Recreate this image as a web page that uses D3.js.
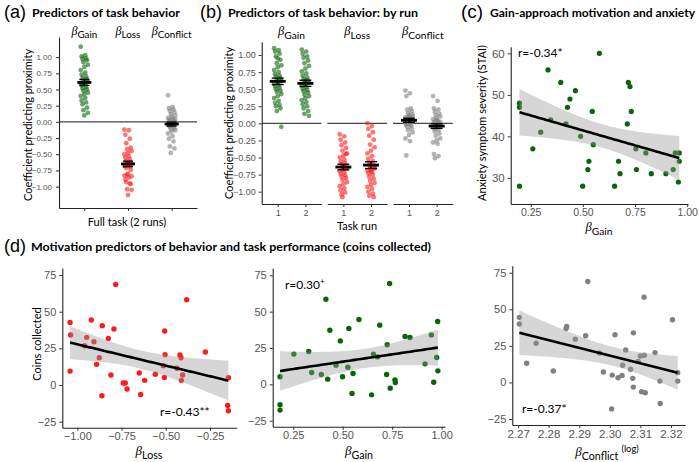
<!DOCTYPE html>
<html>
<head>
<meta charset="utf-8">
<script src="https://cdn.jsdelivr.net/npm/d3@7"></script>
<style>
  body { margin: 0; background: #fff; }
  text { font-family: Lato, "Open Sans", sans-serif; }
</style>
</head>
<body>
<script>
// ---- data ----
var predictors = ["Gain", "Loss", "Conflict"];
var runs = ["1", "2"];

// (a) full task coefficients
var gainAll = [1.16, 1.03, 1.01, 0.98, 0.97, 0.95, 0.92, 0.88, 0.85, 0.80, 0.76, 0.73, 0.70, 0.68, 0.66, 0.64, 0.62, 0.61,
    0.60, 0.58, 0.56, 0.54, 0.52, 0.50, 0.48, 0.45, 0.43, 0.40, 0.37, 0.33, 0.30, 0.27, 0.22, 0.18, 0.14, 0.10];
var lossAll = [-0.12, -0.13, -0.20, -0.26, -0.33, -0.40, -0.42, -0.45, -0.48, -0.50, -0.53, -0.55, -0.58, -0.60, -0.62, -0.64, -0.65, -0.66,
    -0.68, -0.66, -0.68, -0.69, -0.71, -0.74, -0.82, -0.84, -0.80, -0.83, -0.86, -0.89, -0.95, -0.93, -0.96, -1.04, -1.05, -1.13];
var conflictAll = [0.41, 0.23, 0.21, 0.19, 0.17, 0.15, 0.12, 0.10, 0.08, 0.06, 0.05, 0.03, 0.02, 0.01, 0.00, -0.01, -0.02, -0.03,
    -0.04, -0.05, -0.06, -0.07, -0.08, -0.10, -0.11, -0.13, -0.15, -0.18, -0.22, -0.26, -0.30, -0.38, -0.41, -0.48, 0.04, -0.02];

// (b) by run
var gainRun1 = [1.10, 1.07, 1.05, 1.02, 0.98, 0.93, 0.88, 0.85, 0.82, 0.78, 0.75, 0.72, 0.70, 0.68, 0.66, 0.64, 0.62, 0.60,
    0.58, 0.56, 0.54, 0.52, 0.50, 0.48, 0.46, 0.43, 0.40, 0.37, 0.33, 0.30, 0.27, 0.25, 0.22, 0.18, -0.05, 0.95];
var gainRun2 = [1.08, 1.05, 1.02, 0.98, 0.96, 0.92, 0.88, 0.84, 0.80, 0.76, 0.73, 0.70, 0.67, 0.65, 0.63, 0.61, 0.59, 0.57,
    0.55, 0.53, 0.51, 0.49, 0.47, 0.45, 0.42, 0.40, 0.37, 0.34, 0.31, 0.28, 0.25, 0.22, 0.18, 0.14, 0.11, 0.62];
var lossRun1 = [-0.16, -0.19, -0.24, -0.28, -0.32, -0.36, -0.40, -0.44, -0.47, -0.50, -0.53, -0.56, -0.58, -0.60, -0.62, -0.64, -0.66, -0.68,
    -0.70, -0.72, -0.74, -0.76, -0.78, -0.80, -0.83, -0.86, -0.89, -0.92, -0.95, -0.98, -1.01, -1.04, -0.45, -1.08, -0.65, -0.63];
var lossRun2 = [0.00, -0.04, -0.08, -0.13, -0.18, -0.24, -0.31, -0.35, -0.40, -0.44, -0.48, -0.52, -0.55, -0.58, -0.61, -0.63, -0.65, -0.67,
    -0.69, -0.71, -0.73, -0.75, -0.78, -0.81, -0.84, -0.87, -0.90, -0.93, -0.96, -1.00, -1.03, -1.06, -1.08, -0.62, -0.66, -0.70];
var conflictRun1 = [0.48, 0.44, 0.40, 0.22, 0.20, 0.18, 0.15, 0.13, 0.11, 0.09, 0.08, 0.07, 0.06, 0.05, 0.04, 0.03, 0.02, 0.01,
    0.00, -0.01, -0.02, -0.03, -0.05, -0.07, -0.10, -0.13, -0.17, -0.22, -0.26, -0.47, 0.05, 0.03, 0.06, 0.02, 0.10, 0.12];
var conflictRun2 = [0.40, 0.33, 0.22, 0.20, 0.17, 0.14, 0.12, 0.10, 0.08, 0.06, 0.04, 0.02, 0.01, 0.00, -0.01, -0.02, -0.03, -0.04,
    -0.05, -0.06, -0.08, -0.10, -0.12, -0.15, -0.18, -0.22, -0.25, -0.28, -0.30, -0.45, -0.48, -0.51, -0.04, -0.03, 0.02, 0.05];

// (c) gain vs anxiety
var cGain = [0.196, 0.196, 0.196, 0.26, 0.298, 0.333, 0.346, 0.394, 0.419, 0.426, 0.438, 0.464, 0.489, 0.499, 0.524, 0.529, 0.545, 0.55,
    0.579, 0.652, 0.671, 0.678, 0.713, 0.718, 0.726, 0.732, 0.754, 0.757, 0.802, 0.828, 0.898, 0.933, 0.943, 0.962, 0.962, 0.958];
var cAnxiety = [28, 48, 47, 37, 41, 56, 44, 53, 43, 47, 49, 51, 40, 28, 32, 34, 46, 38,
    60, 28, 34, 31, 43, 53, 52, 46, 37, 32, 36, 31, 31, 32, 36, 36, 34, 29];

// (d) coins collected
var d1Loss = [-1.041, -1.038, -1.041, -0.959, -0.947, -0.921, -0.906, -0.891, -0.876, -0.859, -0.861, -0.825, -0.81, -0.793, -0.783,
    -0.74, -0.729, -0.719, -0.65, -0.642, -0.619, -0.559, -0.506, -0.504, -0.514, -0.508, -0.437, -0.42, -0.414, -0.412, -0.405,
    -0.382, -0.276, -0.15, -0.146, -0.146];
var d1Coins = [42.7, 34.1, 9.5, 26.8, 32.5, 44.3, 29.5, 14.1, 18.6, 40.5, -7.3, 31.8, 6.8, 38.2, 68.6,
    1.4, 1.4, -2.7, 8.2, -6.4, 3.2, 7.3, 36.8, 20.7, 13.2, 5.2, 11.4, 20.5, 18.6, 3.2, 6.8,
    58.2, 22.5, -13.9, -17.5, 5.0];

var d2Gain = [0.183, 0.183, 0.183, 0.253, 0.328, 0.343, 0.392, 0.415, 0.424, 0.435, 0.466, 0.488, 0.499, 0.526, 0.531, 0.547, 0.552, 0.582,
    0.646, 0.655, 0.676, 0.687, 0.722, 0.725, 0.737, 0.74, 0.764, 0.766, 0.815, 0.84, 0.916, 0.948, 0.96, 0.975, 0.981, 0.98];
var d2Coins = [5.2, -14.0, -17.7, 20.8, 22.6, 8.2, 6.8, 58.5, 3.6, 37.2, 13.2, 29.9, 5.2, 11.8, 38.4, -6.2, 7.5, 44.6,
    -7.2, 20.8, 18.9, 40.7, 6.8, 27.2, 69.3, -2.6, 3.1, 1.3, 32.9, 32.2, 14.1, 34.0, 1.5, 18.5, 9.3, 43.2];

var d3Conflict = [2.2704, 2.2704, 2.2728, 2.2759, 2.2815, 2.2859, 2.2857, 2.2887, 2.2921, 2.2928, 2.2966, 2.2979, 2.3008, 2.3006, 2.3017,
    2.3027, 2.304, 2.3042, 2.3052, 2.3068, 2.3075, 2.3077, 2.3077, 2.3093, 2.31, 2.3104, 2.3113, 2.3112, 2.3116, 2.3148, 2.3164,
    2.3165, 2.3205, 2.3222, 2.3222];
var d3Coins = [44.5, 39.9, 13.1, 26.8, 7.8, 38.3, 36.9, 29.6, 31.9, 69.0, 20.2, 7.1, 5.0, -18.1, 32.6,
    3.2, 4.8, 11.7, 22.2, 9.0, 2.8, -3.2, 33.9, 14.4, 18.1, -6.4, 18.6, 58.3, -7.1, 20.4, 0.9,
    -14.4, 42.9, 6.7, 0.9];

var coefTicks = [-1.00, -0.75, -0.50, -0.25, 0.00, 0.25, 0.50, 0.75, 1.00];
var coinTicks = [-25, 0, 25, 50, 75];
var anxTicks = [30, 40, 50, 60];
var gainTicks = [0.25, 0.50, 0.75, 1.00];
var lossTicks = [-1.00, -0.75, -0.50, -0.25];
var conflictTicks = [2.27, 2.28, 2.29, 2.30, 2.31, 2.32];

var colors = {Gain: "#0a640a", Loss: "#ff1a1a", Conflict: "#808080"};

var svg = d3.select("body").append("svg")
    .attr("width", 700)
    .attr("height", 462);

// ---- helpers ----
function styleAxis(g, size) {
    g.select(".domain").attr("stroke", "#222").attr("stroke-width", 1.1);
    g.selectAll(".tick line").attr("stroke", "#333");
    g.selectAll(".tick text")
        .attr("fill", "#555")
        .style("font-family", "'Liberation Sans', Arial, sans-serif")
        .style("font-size", size + "px");
}

function jit(i) {
    return ((i * 5) % 9 - 4) * 0.9;
}

function betaText(g, x, y, sub, size, sup) {
    var t = g.append("text")
        .attr("x", x).attr("y", y)
        .attr("text-anchor", "middle")
        .style("font-size", size + "px");
    t.append("tspan").text("β")
        .style("font-family", "'Liberation Serif', serif")
        .style("font-style", "italic");
    t.append("tspan").attr("dy", size * 0.28)
        .style("font-size", (size * 0.82) + "px")
        .text(sub);
    if (sup) {
        t.append("tspan").attr("dy", -size * 0.62).attr("dx", 3)
            .style("font-size", (size * 0.72) + "px")
            .text(sup);
    }
    return t;
}

function panelTitle(letter, lx, tx, y, label, len) {
    svg.append("text").attr("x", lx).attr("y", y + 1)
        .style("font-family", "'Liberation Sans', Arial, sans-serif")
        .style("font-size", "19px")
        .attr("textLength", 22).attr("lengthAdjust", "spacingAndGlyphs")
        .text("(" + letter + ")");
    svg.append("text").attr("x", tx).attr("y", y)
        .style("font-weight", "bold")
        .style("font-size", "12px")
        .attr("textLength", len).attr("lengthAdjust", "spacingAndGlyphs")
        .text(label);
}

function meanBar(g, x, vals, y, halfW, capW) {
    var m = d3.mean(vals);
    var se = d3.deviation(vals) / Math.sqrt(vals.length);
    g.append("line")
        .attr("x1", x).attr("x2", x)
        .attr("y1", y(m - se)).attr("y2", y(m + se))
        .attr("stroke", "#000").attr("stroke-width", 1.3);
    [m - se, m + se].forEach(function(v) {
        g.append("line")
            .attr("x1", x - capW).attr("x2", x + capW)
            .attr("y1", y(v)).attr("y2", y(v))
            .attr("stroke", "#000").attr("stroke-width", 1.3);
    });
    g.append("line")
        .attr("x1", x - halfW).attr("x2", x + halfW)
        .attr("y1", y(m)).attr("y2", y(m))
        .attr("stroke", "#000").attr("stroke-width", 2.8);
}

function strip(g, x, vals, y, color, r) {
    g.selectAll(null).data(vals).enter()
        .append("circle")
        .attr("cx", (d, i) => x + jit(i))
        .attr("cy", d => y(d))
        .attr("r", r)
        .attr("fill", color)
        .attr("fill-opacity", 0.6);
}

// linear fit with 95% confidence band, like geom_smooth(method = "lm")
function lmFit(xs, ys) {
    var n = xs.length;
    var mx = d3.mean(xs), my = d3.mean(ys);
    var sxx = d3.sum(xs, d => (d - mx) * (d - mx));
    var sxy = d3.sum(xs, (d, i) => (d - mx) * (ys[i] - my));
    var b = sxy / sxx, a = my - b * mx;
    var sse = d3.sum(xs, (d, i) => Math.pow(ys[i] - (a + b * d), 2));
    var s = Math.sqrt(sse / (n - 2));
    var t = 2.03;
    var ext = d3.extent(xs);
    return d3.range(0, 81).map(function(k) {
        var xv = ext[0] + (ext[1] - ext[0]) * k / 80;
        var fit = a + b * xv;
        var se = s * Math.sqrt(1 / n + (xv - mx) * (xv - mx) / sxx);
        return {x: xv, y: fit, lo: fit - t * se, hi: fit + t * se};
    });
}

function scatter(xs, ys, xScale, yScale, color, r) {
    var g = svg.append("g");
    g.selectAll("circle").data(xs).enter()
        .append("circle")
        .attr("cx", d => xScale(d))
        .attr("cy", (d, i) => yScale(ys[i]))
        .attr("r", r)
        .attr("fill", color);
    var fit = lmFit(xs, ys);
    g.append("path").datum(fit)
        .attr("d", d3.area().x(d => xScale(d.x)).y0(d => yScale(d.lo)).y1(d => yScale(d.hi)))
        .attr("fill", "#999").attr("fill-opacity", 0.4);
    g.append("path").datum(fit)
        .attr("d", d3.line().x(d => xScale(d.x)).y(d => yScale(d.y)))
        .attr("fill", "none").attr("stroke", "#000").attr("stroke-width", 2.6);
}

function axesXY(xScale, yScale, yBase, xLeft, xT, yT, xFmt, xSize, ySize) {
    var gx = svg.append("g").attr("transform", "translate(0," + yBase + ")")
        .call(d3.axisBottom(xScale).tickValues(xT).tickFormat(d3.format(xFmt)).tickSize(3).tickSizeOuter(0).tickPadding(2));
    styleAxis(gx, xSize);
    var gy = svg.append("g").attr("transform", "translate(" + xLeft + ",0)")
        .call(d3.axisLeft(yScale).tickValues(yT).tickFormat(d3.format("d")).tickSize(3).tickSizeOuter(0).tickPadding(3));
    styleAxis(gy, ySize);
}

function yTitle(x, y, label, size) {
    svg.append("text")
        .attr("transform", "translate(" + x + "," + y + ") rotate(-90)")
        .attr("text-anchor", "middle")
        .style("font-size", size + "px")
        .text(label);
}

// ---- titles ----
panelTitle("a", 4, 32, 17, "Predictors of task behavior", 148);
panelTitle("b", 200, 228, 17, "Predictors of task behavior: by run", 190);
panelTitle("c", 461, 490, 17, "Gain-approach motivation and anxiety", 205);
panelTitle("d", 4, 31, 251, "Motivation predictors of behavior and task performance (coins collected)", 400);

// ---- (a) ----
var xA = d3.scalePoint().domain(predictors).range([59, 197]).padding(0.58);
var yA = d3.scaleLinear().domain([-1.33, 1.31]).range([208, 37]);
var allVals = {Gain: gainAll, Loss: lossAll, Conflict: conflictAll};

var gA = svg.append("g");
gA.append("line").attr("x1", 59).attr("x2", 197).attr("y1", yA(0)).attr("y2", yA(0))
    .attr("stroke", "#444").attr("stroke-width", 1.4);
predictors.forEach(function(p) {
    strip(gA, xA(p), allVals[p], yA, colors[p], 2.4);
    meanBar(gA, xA(p), allVals[p], yA, 7, 5);
    betaText(svg, xA(p), 35, p, 12);
});
var axA = svg.append("g").attr("transform", "translate(0,208)")
    .call(d3.axisBottom(xA).tickFormat("").tickSize(3).tickSizeOuter(0));
styleAxis(axA, 8);
var ayA = svg.append("g").attr("transform", "translate(59,0)")
    .call(d3.axisLeft(yA).tickValues(coefTicks).tickFormat(d3.format(".2f")).tickSize(3).tickSizeOuter(0).tickPadding(4));
styleAxis(ayA, 8);
yTitle(32, 125, "Coefficient predicting proximity", 11);
svg.append("text").attr("x", 127).attr("y", 226).attr("text-anchor", "middle")
    .style("font-size", "11px").text("Full task (2 runs)");

// ---- (b) ----
var yB = d3.scaleLinear().domain([-1.18, 1.195]).range([204, 41.7]);
var facetX = d3.scaleBand().domain(predictors).range([261.7, 452.7]).paddingInner(0.09);
var runVals = {
    Gain: [gainRun1, gainRun2],
    Loss: [lossRun1, lossRun2],
    Conflict: [conflictRun1, conflictRun2]
};
predictors.forEach(function(p) {
    var x0 = facetX(p), w = facetX.bandwidth();
    var xr = d3.scalePoint().domain(runs).range([x0, x0 + w]).padding(0.58);
    var g = svg.append("g");
    g.append("line").attr("x1", x0).attr("x2", x0 + w).attr("y1", yB(0)).attr("y2", yB(0))
        .attr("stroke", "#444").attr("stroke-width", 1.4);
    runs.forEach(function(r, k) {
        strip(g, xr(r), runVals[p][k], yB, colors[p], 2.4);
        meanBar(g, xr(r), runVals[p][k], yB, 8, 6);
    });
    var ax = svg.append("g").attr("transform", "translate(0,204)")
        .call(d3.axisBottom(xr).tickSize(3).tickSizeOuter(0).tickPadding(3));
    styleAxis(ax, 9);
    betaText(svg, x0 + w / 2, 35, p, 12.5);
});
var ayB = svg.append("g").attr("transform", "translate(261.7,0)")
    .call(d3.axisLeft(yB).tickValues(coefTicks).tickFormat(d3.format(".2f")).tickSize(3).tickSizeOuter(0).tickPadding(3));
styleAxis(ayB, 9);
yTitle(233, 123, "Coefficient predicting proximity", 11);
svg.append("text").attr("x", 357).attr("y", 230).attr("text-anchor", "middle")
    .style("font-size", "11px").text("Task run");

// ---- (c) ----
var xC = d3.scaleLinear().domain([0.154, 1.004]).range([510.7, 688]);
var yC = d3.scaleLinear().domain([23.7, 61.6]).range([204, 46.7]);
scatter(cGain, cAnxiety, xC, yC, colors.Gain, 2.6);
axesXY(xC, yC, 204, 510.7, gainTicks, anxTicks, ".2f", 10.5, 11.5);
yTitle(486, 123, "Anxiety symptom severity (STAI)", 11);
betaText(svg, 599, 231, "Gain", 12.5);
svg.append("text").attr("x", 518).attr("y", 57).style("font-size", "12px").text("r=-0.34*");

// ---- (d) ----
var yD1 = d3.scaleLinear().domain([-29.1, 79.8]).range([427.7, 268]);
var xD1 = d3.scaleLinear().domain([-1.085, -0.099]).range([62.3, 236.7]);
scatter(d1Loss, d1Coins, xD1, yD1, colors.Loss, 2.7);
axesXY(xD1, yD1, 427.7, 62.3, lossTicks, coinTicks, ".2f", 11, 11);
yTitle(41, 344, "Coins collected", 11);
betaText(svg, 149, 455, "Loss", 13);
svg.append("text").attr("x", 160).attr("y", 416).style("font-size", "12px").text("r=-0.43**");

var yD2 = d3.scaleLinear().domain([-29.1, 79.8]).range([426.7, 268.3]);
var xD2 = d3.scaleLinear().domain([0.146, 1.017]).range([272.7, 445]);
scatter(d2Gain, d2Coins, xD2, yD2, colors.Gain, 2.7);
axesXY(xD2, yD2, 426.7, 272.7, gainTicks, coinTicks, ".2f", 11, 11);
betaText(svg, 359, 455, "Gain", 13);
var rD2 = svg.append("text").attr("x", 285).attr("y", 289).style("font-size", "12px");
rD2.append("tspan").text("r=0.30");
rD2.append("tspan").attr("dy", -5).style("font-size", "8px").text("+");

var yD3 = d3.scaleLinear().domain([-29.1, 79.8]).range([425, 265.7]);
var xD3 = d3.scaleLinear().domain([2.2681, 2.3246]).range([512.3, 685]);
scatter(d3Conflict, d3Coins, xD3, yD3, colors.Conflict, 2.7);
axesXY(xD3, yD3, 425, 512.3, conflictTicks, coinTicks, ".2f", 11.5, 11);
betaText(svg, 607, 456, "Conflict", 13, "(log)");
svg.append("text").attr("x", 522).attr("y", 413).style("font-size", "12px").text("r=-0.37*");
</script>
</body>
</html>
